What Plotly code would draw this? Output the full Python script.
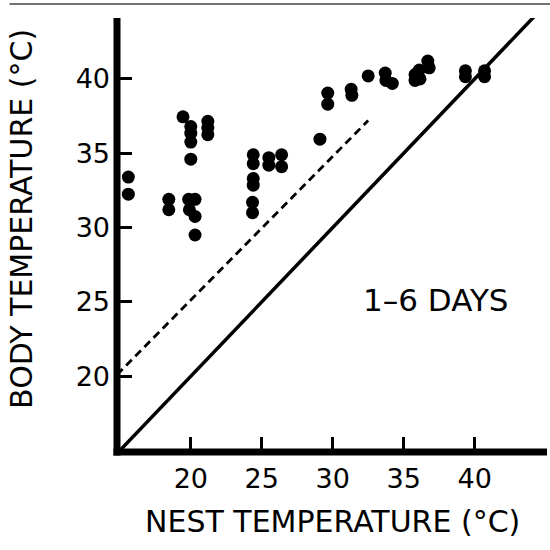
import plotly.graph_objects as go

# Nest temperature (x) and body temperature (y), 1-6 day old young
nest_temp = [15.6, 15.6,
             18.45, 18.45,
             19.45, 20.0, 20.0, 20.0, 20.0, 19.85, 20.3, 19.9, 20.3, 20.3,
             21.2, 21.2, 21.2,
             24.4, 24.4, 24.4, 24.4, 24.35, 24.35,
             25.5, 25.5, 26.4, 26.4,
             29.1, 29.65, 29.65,
             31.3, 31.35, 32.5,
             33.7, 33.75, 34.2,
             35.8, 35.8, 36.1, 36.15, 36.7, 36.8,
             39.35, 39.35, 40.7, 40.7]
body_temp = [33.4, 32.25,
             31.9, 31.2,
             37.45, 36.8, 36.35, 35.75, 34.6, 31.9, 31.9, 31.2, 30.75, 29.5,
             37.15, 36.7, 36.25,
             34.9, 34.3, 33.3, 32.85, 31.7, 31.0,
             34.7, 34.2, 34.9, 34.1,
             35.95, 39.05, 38.3,
             39.3, 38.9, 40.2,
             40.4, 39.9, 39.7,
             40.3, 39.9, 40.6, 40.0, 41.2, 40.75,
             40.55, 40.15, 40.55, 40.15]

equality_x = [14.8, 44.8]
dashed_x = [14.8, 32.5]
dashed_y = [20.1, 37.2]

x_ticks = [20, 25, 30, 35, 40]
y_ticks = [20, 25, 30, 35, 40]

FONT = "DejaVu Sans"

fig = go.Figure()
fig.add_trace(go.Scatter(x=equality_x, y=equality_x, mode="lines",
                         line=dict(color="black", width=3.5), hoverinfo="skip"))
fig.add_trace(go.Scatter(x=dashed_x, y=dashed_y, mode="lines",
                         line=dict(color="black", width=2.8, dash="8px,5px"),
                         hoverinfo="skip"))
fig.add_trace(go.Scatter(x=nest_temp, y=body_temp, mode="markers",
                         marker=dict(color="black", size=13, line=dict(width=0))))

fig.add_annotation(x=37.3, y=25.1, text="1–6 DAYS", showarrow=False,
                   xanchor="center", yanchor="middle",
                   font=dict(family=FONT, size=31, color="black"))

fig.add_annotation(x=0.502, y=-0.161, xref="paper", yref="paper",
                   xanchor="center", yanchor="middle",
                   text="NEST TEMPERATURE (°C)", showarrow=False,
                   font=dict(family=FONT, size=30, color="black"))
fig.add_annotation(x=-0.221, y=0.537, xref="paper", yref="paper",
                   xanchor="center", yanchor="middle",
                   text="BODY TEMPERATURE (°C)", showarrow=False, textangle=-90,
                   font=dict(family=FONT, size=30, color="black"))

# axis frame lines
fig.add_shape(type="line", xref="paper", yref="paper", x0=-0.008, x1=1.0, y0=0, y1=0,
              line=dict(color="black", width=7))
fig.add_shape(type="line", xref="paper", yref="paper", x0=0, x1=0, y0=-0.008, y1=1.0,
              line=dict(color="black", width=7))
fig.add_shape(type="line", xref="paper", yref="paper", x0=-0.25, x1=1.01, y0=1.032, y1=1.032,
              line=dict(color="#444", width=1.5))

fig.update_xaxes(range=[14.8, 45.1], tickvals=x_ticks, ticks="inside", ticklen=15,
                 tickwidth=2.5, tickcolor="black", showgrid=False, zeroline=False,
                 showline=False, ticklabelstandoff=8,
                 tickfont=dict(family=FONT, size=27, color="black"))
fig.update_yaxes(range=[14.9, 44.1], tickvals=y_ticks, ticks="inside", ticklen=15,
                 tickwidth=2.5, tickcolor="black", showgrid=False, zeroline=False,
                 showline=False, ticklabelstandoff=6,
                 tickfont=dict(family=FONT, size=27, color="black"))

fig.update_layout(width=550, height=550, showlegend=False,
                  margin=dict(l=117, r=3, t=18, b=98),
                  plot_bgcolor="white", paper_bgcolor="white")

fig.write_html("out.html")
